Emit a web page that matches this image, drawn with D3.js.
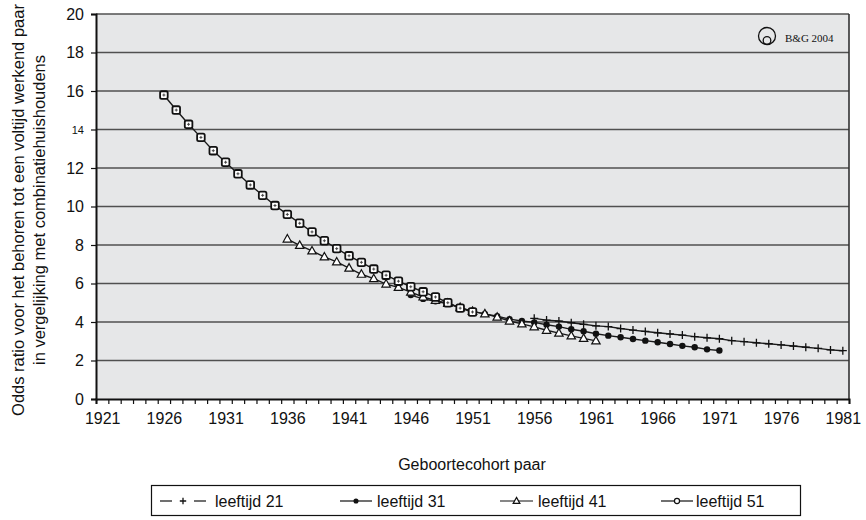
<!DOCTYPE html>
<html><head><meta charset="utf-8">
<script src="https://cdn.jsdelivr.net/npm/d3@7"></script>
<style>body{margin:0;background:#fff;} svg{display:block;font-family:"Liberation Sans",Arial,sans-serif;}</style>
</head><body><svg id="c" width="866" height="520"></svg>
<script>
const xLabels = [1921,1926,1931,1936,1941,1946,1951,1956,1961,1966,1971,1976,1981];
const yTicks = [0,2,4,6,8,10,12,14,16,18,20];

const years21 = d3.range(1956, 1982);
const vals21 = [4.19,4.10,4.05,3.96,3.88,3.80,3.76,3.66,3.58,3.51,3.44,3.38,3.32,3.24,3.18,3.13,3.03,2.98,2.92,2.87,2.81,2.75,2.69,2.63,2.55,2.51];
const years31 = d3.range(1946, 1972);
const vals31 = [5.40,5.20,5.08,4.95,4.75,4.55,4.42,4.30,4.15,4.05,3.98,3.86,3.76,3.62,3.52,3.39,3.29,3.21,3.12,3.03,2.95,2.86,2.76,2.69,2.58,2.52];
const years41 = d3.range(1936, 1962);
const vals41 = [8.31,7.98,7.69,7.38,7.12,6.80,6.48,6.25,5.97,5.80,5.55,5.30,5.12,4.97,4.75,4.55,4.42,4.25,4.05,3.90,3.75,3.57,3.42,3.28,3.15,3.02];
const years51 = d3.range(1926, 1952);
const vals51 = [15.79,15.01,14.27,13.59,12.90,12.30,11.70,11.12,10.58,10.05,9.59,9.13,8.68,8.22,7.81,7.44,7.10,6.75,6.43,6.12,5.83,5.57,5.30,5.00,4.72,4.52];
const seriesNames = ["leeftijd 21","leeftijd 31","leeftijd 41","leeftijd 51"];

const svg = d3.select("#c");
const L = 96, R = 849, T = 14, B = 399;
const x = d3.scaleLinear().domain([1920.5, 1981.5]).range([L, R]);
const y = d3.scaleLinear().domain([0, 20]).range([B, T]);

svg.append("rect").attr("x", L).attr("y", T).attr("width", R - L).attr("height", B - T).attr("fill", "#e6e7e8");

svg.append("g").selectAll("line").data(yTicks.filter(d => d > 0)).join("line")
  .attr("x1", L).attr("x2", R).attr("y1", d => y(d)).attr("y2", d => y(d))
  .attr("stroke", "#505050").attr("stroke-width", 1.6);

svg.append("line").attr("x1", R).attr("x2", R).attr("y1", T).attr("y2", B).attr("stroke", "#333").attr("stroke-width", 1.6);

const ya = svg.append("g").attr("transform", `translate(${L},0)`)
  .call(d3.axisLeft(y).tickValues(yTicks).tickSize(5).tickPadding(7).tickFormat(d3.format("d")));
ya.select(".domain").attr("stroke", "#111").attr("stroke-width", 2);
ya.selectAll(".tick line").attr("stroke", "#111").attr("stroke-width", 1.2);
ya.selectAll(".tick text").attr("font-size", d => d === 14 ? 11 : 16).attr("fill", "#111")
  .attr("font-family", "Liberation Sans, Arial, sans-serif");

const xa = svg.append("g").attr("transform", `translate(0,${B})`)
  .call(d3.axisBottom(x).tickValues(d3.range(1920.5, 1982, 1)).tickSize(5).tickFormat(""));
xa.select(".domain").attr("stroke", "#111").attr("stroke-width", 2);
xa.selectAll(".tick line").attr("stroke", "#111").attr("stroke-width", 1.2);
const xl = svg.append("g").attr("transform", `translate(0,${B})`)
  .call(d3.axisBottom(x).tickValues(xLabels).tickSize(0).tickPadding(14).tickFormat(d3.format("d")));
xl.select(".domain").remove();
xl.selectAll(".tick text").attr("font-size", 16).attr("fill", "#111").attr("font-family", "Liberation Sans, Arial, sans-serif");

const line = d3.line().x(d => x(d[0])).y(d => y(d[1]));
const data = [
  {yrs: years21, v: vals21, m: "plus", lm: "plus"},
  {yrs: years31, v: vals31, m: "dot", lm: "dot"},
  {yrs: years41, v: vals41, m: "tri", lm: "tri"},
  {yrs: years51, v: vals51, m: "sq", lm: "circ"}
];
function drawMarker(g, type, cx, cy, s) {
  if (type === "plus") {
    g.append("path").attr("d", `M${cx-4*s},${cy}H${cx+4*s}M${cx},${cy-4*s}V${cy+4*s}`).attr("stroke", "#111").attr("stroke-width", 1.3);
  } else if (type === "dot") {
    g.append("circle").attr("cx", cx).attr("cy", cy).attr("r", 3.2*s).attr("fill", "#111");
  } else if (type === "tri") {
    g.append("path").attr("d", `M${cx},${cy-4.5*s}L${cx+4.2*s},${cy+3*s}L${cx-4.2*s},${cy+3*s}Z`)
      .attr("fill", "#fff").attr("stroke", "#111").attr("stroke-width", 1.2);
  } else if (type === "sq") {
    g.append("rect").attr("x", cx-3.8*s).attr("y", cy-3.8*s).attr("width", 7.6*s).attr("height", 7.6*s).attr("rx", 1.6*s)
      .attr("fill", "#fff").attr("stroke", "#111").attr("stroke-width", 1.8);
    g.append("path").attr("d", `M${cx-1.5},${cy}H${cx+1.5}M${cx},${cy-1.5}V${cy+1.5}`).attr("stroke", "#444").attr("stroke-width", 1);
  } else if (type === "circ") {
    g.append("circle").attr("cx", cx).attr("cy", cy).attr("r", 3.2*s).attr("fill", "#fff").attr("stroke", "#111").attr("stroke-width", 1.2);
  }
}
data.forEach(s => {
  const pts = s.yrs.map((yr, i) => [yr, s.v[i]]);
  svg.append("path").datum(pts).attr("d", line).attr("fill", "none").attr("stroke", "#1a1a1a").attr("stroke-width", 1.4);
});
data.forEach(s => {
  const g = svg.append("g");
  s.yrs.forEach((yr, i) => drawMarker(g, s.m, x(yr), y(s.v[i]), 1));
});

// watermark
svg.append("circle").attr("cx", 767).attr("cy", 36).attr("r", 8.5).attr("fill", "none").attr("stroke", "#111").attr("stroke-width", 1.3);
svg.append("circle").attr("cx", 767).attr("cy", 40.5).attr("r", 3.8).attr("fill", "none").attr("stroke", "#111").attr("stroke-width", 1.3);
svg.append("text").attr("x", 785).attr("y", 42).attr("font-family", "Liberation Serif, Times New Roman, serif")
  .attr("font-size", 11).attr("fill", "#111").text("B&G 2004");

// axis titles
svg.append("text").attr("x", 472).attr("y", 470).attr("text-anchor", "middle").attr("font-size", 16).attr("fill", "#111").text("Geboortecohort paar");
const yt = svg.append("text").attr("transform", "translate(24,210) rotate(-90)").attr("text-anchor", "middle").attr("font-size", 16.5).attr("fill", "#111");
yt.append("tspan").attr("x", 0).attr("dy", 0).text("Odds ratio voor het behoren tot een voltijd werkend paar");
yt.append("tspan").attr("x", 0).attr("dy", 21).text("in vergelijking met combinatiehuishoudens");

// legend
const lg = svg.append("g");
lg.append("rect").attr("x", 151.5).attr("y", 485.5).attr("width", 649).attr("height", 30).attr("fill", "#fff").attr("stroke", "#111").attr("stroke-width", 1.2);
const symX = [[160, 206], [340, 372], [500, 533], [661, 693]];
const txtX = [215, 377, 538, 696];
data.forEach((s, i) => {
  const g = lg.append("g");
  const cy = 501;
  if (i === 0) {
    g.append("line").attr("x1", symX[i][0]).attr("x2", symX[i][0] + 12).attr("y1", cy).attr("y2", cy).attr("stroke", "#111").attr("stroke-width", 1.2);
    g.append("line").attr("x1", symX[i][1] - 12).attr("x2", symX[i][1]).attr("y1", cy).attr("y2", cy).attr("stroke", "#111").attr("stroke-width", 1.2);
  } else {
    g.append("line").attr("x1", symX[i][0]).attr("x2", symX[i][1]).attr("y1", cy).attr("y2", cy).attr("stroke", "#111").attr("stroke-width", 1.2);
  }
  drawMarker(g, s.lm, (symX[i][0] + symX[i][1]) / 2, cy, 0.8);
  g.append("text").attr("x", txtX[i]).attr("y", cy + 6).attr("font-size", 16).attr("fill", "#111").text(seriesNames[i]);
});
</script></body></html>
